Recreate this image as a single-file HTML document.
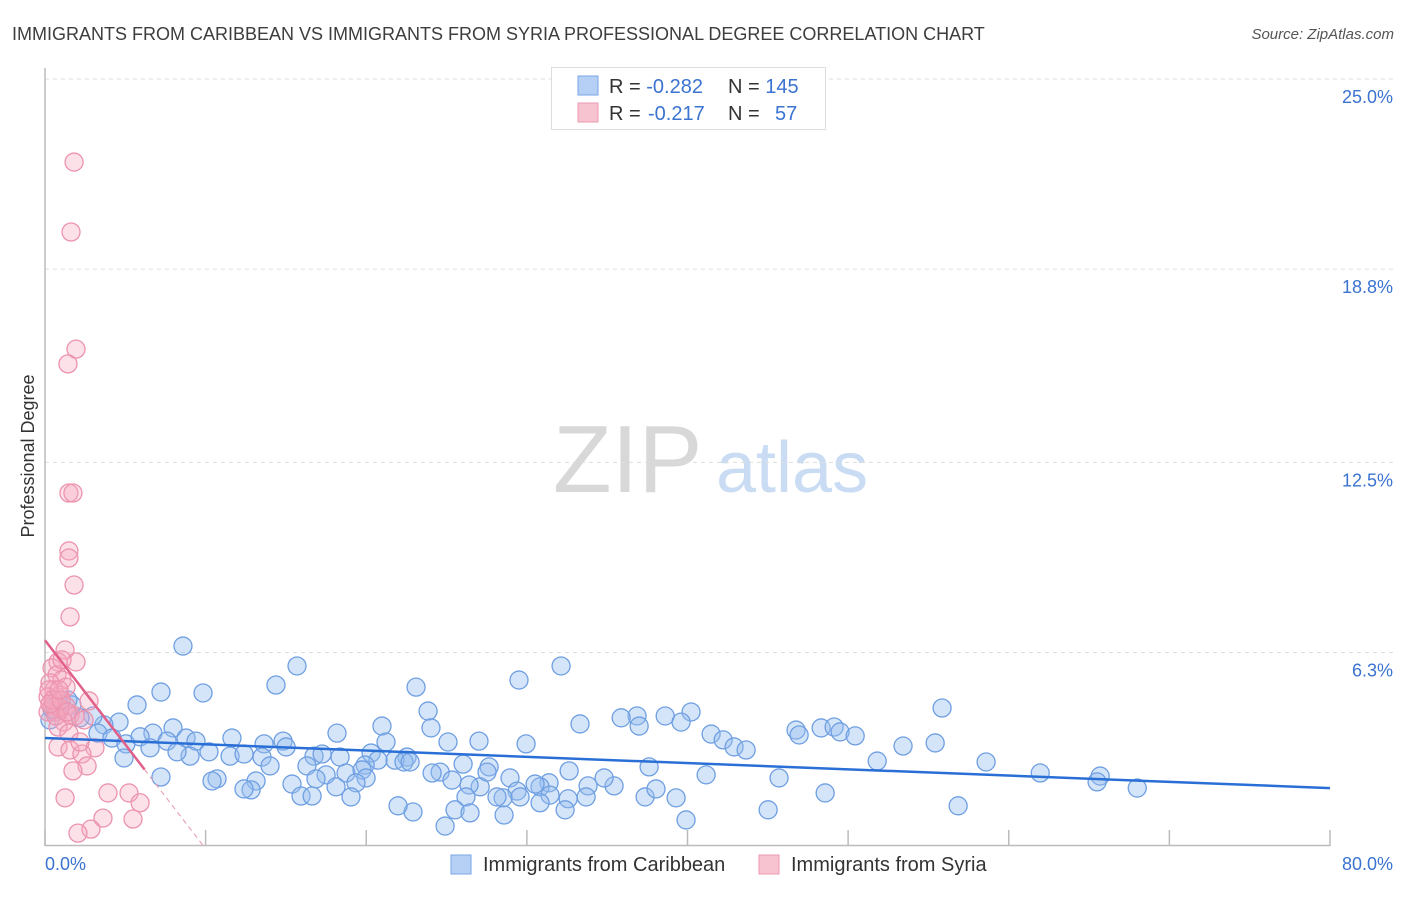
<!DOCTYPE html>
<html><head><meta charset="utf-8"><style>
body{margin:0;background:#fff;font-family:"Liberation Sans",sans-serif;}
svg text{font-family:"Liberation Sans",sans-serif;}
</style></head><body>
<svg id="chart" width="1406" height="892" xmlns="http://www.w3.org/2000/svg">
<text x="12" y="40" font-size="18" fill="#3d3d3d">IMMIGRANTS FROM CARIBBEAN VS IMMIGRANTS FROM SYRIA PROFESSIONAL DEGREE CORRELATION CHART</text>
<text x="1394" y="39" font-size="15" fill="#555" font-style="italic" text-anchor="end">Source: ZipAtlas.com</text>
<g>
<text x="553" y="492" font-size="96" font-family="Liberation Serif" fill="#d8d8d8">ZIP</text>
<text x="716" y="492" font-size="72" fill="#c9dcf3">atlas</text>
</g>
<g id="grid"></g>
<line x1="45" y1="68" x2="45" y2="846" stroke="#bbb" stroke-width="1.5"/>
<line x1="45" y1="845.5" x2="1330" y2="845.5" stroke="#bbb" stroke-width="1.5"/>
<g id="ticks"></g>
<text transform="translate(34,456) rotate(-90)" font-size="18" fill="#333" text-anchor="middle">Professional Degree</text>
<text x="45" y="870" font-size="18" fill="#3b73d1">0.0%</text>
<text x="1393" y="870" font-size="18" fill="#3b73d1" text-anchor="end">80.0%</text>
<g id="pts"></g>
<g id="trend"></g>
<g>
<rect x="551.5" y="67.5" width="274" height="62" fill="#fff" stroke="#ddd"/>
<rect x="578" y="76" width="20" height="19" fill="#b6d0f5" stroke="#7aa6e6"/>
<rect x="578" y="103" width="20" height="19" fill="#f7c3d1" stroke="#eb98b0"/>
<text x="609" y="93" font-size="20" fill="#333">R = <tspan fill="#3b73d1">-0.282</tspan><tspan x="728">N = </tspan><tspan fill="#3b73d1">145</tspan></text>
<text x="609" y="120" font-size="20" fill="#333">R = <tspan fill="#3b73d1" x="648">-0.217</tspan><tspan x="728">N = </tspan><tspan fill="#3b73d1" x="775">57</tspan></text>
</g>
<g>
<rect x="451" y="855" width="20" height="19" fill="#b6d0f5" stroke="#7aa6e6"/>
<text x="483" y="871" font-size="20" fill="#333">Immigrants from Caribbean</text>
<rect x="759" y="855" width="20" height="19" fill="#f7c3d1" stroke="#eb98b0"/>
<text x="791" y="871" font-size="20" fill="#333">Immigrants from Syria</text>
</g>
</svg>
<script>
const yTicks=[6.3,12.5,18.8,25.0];
const yTickLabels=["6.3%","12.5%","18.8%","25.0%"];
const xTicks=[0,10,20,30,40,50,60,70,80];
const caribX=[8.59,15.69,32.13,29.51,14.38,23.10,9.84,7.22,5.73,23.85,40.22,55.85,36.86,35.87,38.61,33.31,39.60,36.99,20.98,24.03,48.32,49.13,46.76,49.50,50.44,41.47,42.22,46.95,18.18,7.97,6.72,4.61,3.67,2.99,2.18,1.68,0.93,0.62,0.31,3.30,4.17,5.04,5.92,6.54,7.60,8.78,9.40,11.64,13.64,14.82,15.01,11.52,12.39,13.51,16.75,17.25,18.37,20.30,21.23,25.09,27.02,29.95,22.54,21.79,20.73,19.93,22.35,26.03,27.65,24.60,24.10,22.73,10.21,9.03,8.22,4.92,14.01,16.31,17.50,18.74,19.74,19.99,19.36,18.12,16.87,15.38,13.14,12.83,12.39,10.71,10.40,7.22,42.90,43.65,45.70,41.16,51.81,53.42,55.42,58.59,61.96,65.69,65.50,68.00,48.57,56.85,45.02,39.91,39.29,37.36,38.04,35.43,34.81,33.81,32.63,31.38,30.82,31.44,30.51,28.95,29.39,28.52,28.14,28.58,27.09,26.40,25.34,26.21,25.53,26.46,24.91,22.91,21.98,19.05,15.94,16.63,32.57,33.69,30.82,32.38,37.61,27.52,29.58,0.44,0.81,1.43];
const caribY=[6.51,5.86,5.86,5.40,5.24,5.17,4.98,5.01,4.59,4.39,4.36,4.49,4.23,4.17,4.23,3.97,4.03,3.90,3.90,3.84,3.84,3.87,3.77,3.71,3.58,3.64,3.45,3.61,3.67,3.84,3.67,4.03,3.94,4.23,4.17,4.59,4.55,4.36,4.10,3.67,3.51,3.32,3.55,3.19,3.41,3.51,3.41,3.51,3.32,3.41,3.22,2.92,2.99,2.89,2.92,2.99,2.89,3.02,3.38,3.38,3.41,3.32,2.89,2.79,2.79,2.63,2.73,2.66,2.57,2.40,2.37,2.73,3.06,2.92,3.06,2.86,2.60,2.60,2.31,2.37,2.47,2.21,2.05,1.92,2.18,2.01,2.11,1.82,1.85,2.18,2.11,2.24,3.22,3.12,2.21,2.31,2.76,3.25,3.35,2.73,2.37,2.27,2.08,1.88,1.72,1.30,1.17,0.84,1.56,1.59,1.85,1.95,2.21,1.95,2.44,2.05,1.92,1.65,2.01,2.21,1.78,1.56,1.59,1.00,1.92,1.98,2.14,1.59,1.17,1.07,0.64,1.10,1.30,1.59,1.62,1.62,1.53,1.59,1.40,1.17,2.57,2.40,1.59,4.46,4.75,4.75];
const syriaX=[1.81,1.62,1.93,1.43,1.49,1.74,1.49,1.49,1.81,1.56,1.25,1.93,0.81,0.44,0.75,1.06,0.31,0.56,0.93,0.19,2.74,1.31,0.44,0.75,1.56,1.87,0.19,1.18,0.81,1.49,3.11,0.81,1.56,2.30,2.62,1.74,3.92,5.23,5.92,1.25,5.48,3.61,2.86,2.05,0.56,0.93,0.68,0.25,1.06,2.43,2.18,1.31,0.50,0.31,1.00,1.37,0.87];
const syriaY=[22.29,20.01,16.19,15.71,11.50,11.50,9.61,9.38,8.50,7.46,6.38,5.99,5.99,5.80,5.57,5.40,5.31,5.08,4.91,4.85,4.72,4.55,4.55,4.36,4.26,4.23,4.36,4.03,3.87,3.67,3.19,3.22,3.12,2.99,2.60,2.44,1.72,1.72,1.40,1.56,0.87,0.90,0.54,0.41,4.62,4.49,4.23,5.08,6.06,4.10,3.38,5.17,4.75,4.62,4.75,4.36,5.08];
const caribTrend=[3.51,-0.0204];
const syriaTrend=[6.7,-0.68];
const syriaSolidEnd=6.2;

const NS="http://www.w3.org/2000/svg";
const X=v=>45+v*(1285/80);
const Y=v=>845.7-v*30.67;
function mk(tag,attrs,parent){const e=document.createElementNS(NS,tag);for(const k in attrs)e.setAttribute(k,attrs[k]);document.getElementById(parent).appendChild(e);return e;}
yTicks.forEach((t,i)=>{
 const l=mk('line',{x1:45,x2:1395,y1:Y(t),y2:Y(t),stroke:'#ddd','stroke-dasharray':'4,4'},'grid');
 
 
 const tx=mk('text',{x:1393,y:Y(t)+24,'font-size':18,fill:'#3b73d1','text-anchor':'end'},'grid');
 tx.textContent=yTickLabels[i];
 
 
});
xTicks.forEach(t=>{
 const l=mk('line',{x1:X(t),x2:X(t),y1:830,y2:846,stroke:'#bbb','stroke-width':1.5},'ticks');
 
 
});
caribX.forEach((x,i)=>{
 const c=mk('circle',{cx:X(x),cy:Y(caribY[i]),r:9,fill:'rgba(150,190,240,0.4)',stroke:'#6f9fe2','stroke-width':1.3},'pts');
 
 
});
syriaX.forEach((x,i)=>{
 const c=mk('circle',{cx:X(x),cy:Y(syriaY[i]),r:9,fill:'rgba(245,170,192,0.35)',stroke:'#ec93ae','stroke-width':1.3},'pts');
 
 
});
const bt=mk('line',{x1:X(0),y1:Y(caribTrend[0]),x2:X(80),y2:Y(caribTrend[0]+caribTrend[1]*80),stroke:'#2a6fd6','stroke-width':2.5},'trend');


const sEnd=-syriaTrend[0]/syriaTrend[1];
const st=mk('line',{x1:X(0),y1:Y(syriaTrend[0]),x2:X(syriaSolidEnd),y2:Y(syriaTrend[0]+syriaTrend[1]*syriaSolidEnd),stroke:'#e0608a','stroke-width':2.5},'trend');


const sd=mk('line',{x1:X(syriaSolidEnd),y1:Y(syriaTrend[0]+syriaTrend[1]*syriaSolidEnd),x2:X(sEnd),y2:Y(0),stroke:'#e892ad','stroke-width':1,'stroke-dasharray':'5,4'},'trend');


</script>
</body></html>
